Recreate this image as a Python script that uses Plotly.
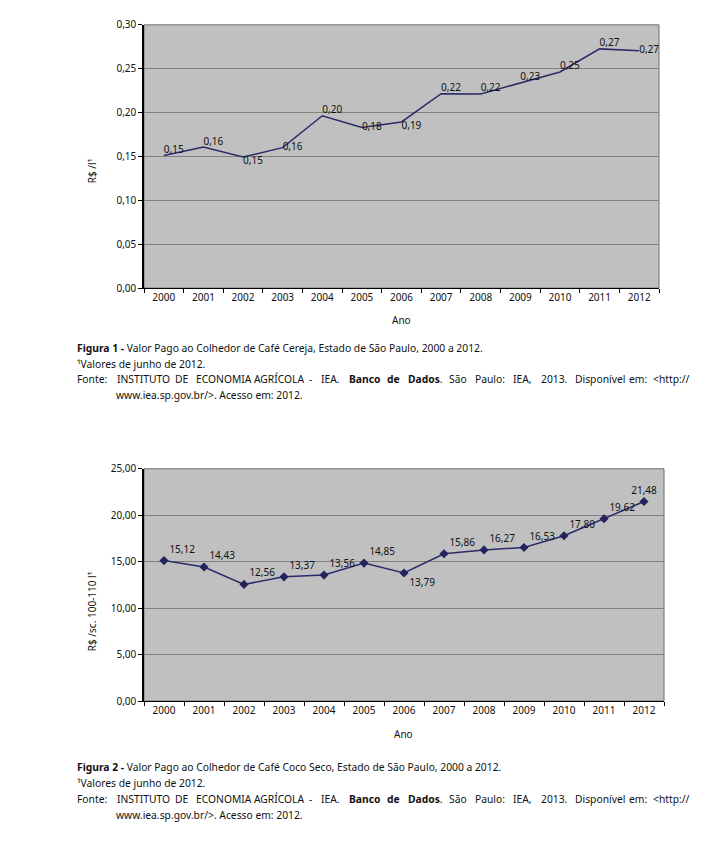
import plotly.graph_objects as go

anos = ["2000", "2001", "2002", "2003", "2004", "2005", "2006",
        "2007", "2008", "2009", "2010", "2011", "2012"]
cereja = [0.151, 0.1607, 0.1494, 0.160, 0.1964, 0.1829, 0.1893,
          0.2216, 0.2212, 0.234, 0.2463, 0.2726, 0.2704]
coco_seco = [15.12, 14.43, 12.56, 13.37, 13.56, 14.85, 13.79,
             15.86, 16.27, 16.53, 17.80, 19.62, 21.48]
ticks1 = [0.0, 0.05, 0.10, 0.15, 0.20, 0.25, 0.30]
ticks2 = [0, 5, 10, 15, 20, 25]

pos1 = ["top right", "top right", "bottom right", "middle right", "top right",
        "middle right", "bottom right", "top right", "top right", "top right",
        "top right", "top right", "middle right"]
pos2 = ["top right"] * 6 + ["bottom right"] + ["top right"] * 5 + ["top center"]

FONT = "Noto Sans"
OFF = 8                      # default page (body) margin
W, H = 725 - 2 * OFF, 858 - 2 * OFF
LINE = "#2b2b6b"
GRID = "#808080"
BG = "#c0c0c0"


def px_x(x):
    return (x - OFF) / W


def px_y(y):
    return 1 - (y - OFF) / H


fig = go.Figure()
fig.add_trace(go.Scatter(
    x=anos, y=cereja, mode="lines+text", xaxis="x", yaxis="y",
    line=dict(color=LINE, width=1.5),
    text=[f"{v:.2f}".replace(".", ",") for v in cereja],
    textposition=pos1, textfont=dict(family=FONT, size=10, color="#111"),
    cliponaxis=False, showlegend=False, hoverinfo="skip"))
fig.add_trace(go.Scatter(
    x=anos, y=coco_seco, mode="lines+markers+text", xaxis="x2", yaxis="y2",
    line=dict(color=LINE, width=1.5),
    marker=dict(symbol="diamond", size=7, color="#23235e"),
    text=[f"{v:.2f}".replace(".", ",") for v in coco_seco],
    textposition=pos2, textfont=dict(family=FONT, size=10, color="#111"),
    cliponaxis=False, showlegend=False, hoverinfo="skip"))

common_x = dict(type="category", range=[-0.5, 12.5], showgrid=False,
                showline=True, linecolor="black", linewidth=1,
                ticks="outside", ticklen=4, tickcolor="black",
                tickson="boundaries", fixedrange=True,
                tickfont=dict(family=FONT, size=10, color="#111"))
common_y = dict(showgrid=True, gridcolor=GRID, gridwidth=1,
                showline=True, linecolor="black", linewidth=1.5,
                ticks="outside", ticklen=4, tickcolor="black",
                zeroline=False, tickformat=".2f",
                tickfont=dict(family=FONT, size=10, color="#111"))

fig.update_layout(
    width=W, height=H, margin=dict(l=0, r=0, t=0, b=0),
    paper_bgcolor="white", plot_bgcolor=BG, separators=",.",
    font=dict(family=FONT, size=10, color="#111"),
    xaxis=dict(domain=[px_x(144), px_x(659)], anchor="y", **common_x),
    yaxis=dict(domain=[px_y(285), px_y(17)], anchor="x", range=[0, 0.30],
               tickvals=ticks1, **common_y),
    xaxis2=dict(domain=[px_x(144), px_x(664)], anchor="y2", **common_x),
    yaxis2=dict(domain=[px_y(705.5), px_y(469)], anchor="x2", range=[0, 25],
                tickvals=ticks2, **common_y),
)

for xr, yr in [("x domain", "y domain"), ("x2 domain", "y2 domain")]:
    fig.add_shape(type="rect", xref=xr, yref=yr, x0=0, x1=1, y0=0, y1=1,
                  line=dict(color="#6e6e6e", width=1), layer="below")

ann = []
ann.append(dict(text="Ano", x=px_x(401), y=px_y(318), xanchor="center"))
ann.append(dict(text="Ano", x=px_x(403), y=px_y(739), xanchor="center"))
ann.append(dict(text="R$ /l¹", x=px_x(92), y=px_y(166), textangle=-90,
                xanchor="center"))
ann.append(dict(text="R$ /sc. 100-110 l¹", x=px_x(92), y=px_y(615),
                textangle=-90, xanchor="center"))

CAP = 10.3
captions = [
    (346, "<b>Figura 1 -</b> Valor Pago ao Colhedor de Café Cereja, Estado de São Paulo, 2000 a 2012."),
    (773, "<b>Figura 2 -</b> Valor Pago ao Colhedor de Café Coco Seco, Estado de São Paulo, 2000 a 2012."),
]
for y, t in captions:
    ann.append(dict(text=t, x=px_x(75), y=px_y(y), xanchor="left",
                    font=dict(size=CAP)))
for base in (362, 789):
    ann.append(dict(text="¹Valores de junho de 2012.", x=px_x(75), y=px_y(base),
                    xanchor="left", font=dict(size=CAP)))

# justified "Fonte" line: word groups with their left edges
fonte_words = ["Fonte:", "INSTITUTO", "DE", "ECONOMIA", "AGRÍCOLA", "-", "IEA.",
               "<b>Banco</b>", "<b>de</b>", "<b>Dados</b>.", "São", "Paulo:", "IEA,",
               "2013.", "Disponível", "em:"]
fonte_x = [75, 115, 173, 194, 252, 307, 319, 347, 385, 406, 447, 473, 511,
           539, 573, 627]
for base in (378, 805):
    for w, xw in zip(fonte_words, fonte_x):
        ann.append(dict(text=w, x=px_x(xw), y=px_y(base), xanchor="left",
                        font=dict(size=CAP)))
    ann.append(dict(text="&lt;http://", x=px_x(692), y=px_y(base),
                    xanchor="right", font=dict(size=CAP)))
    ann.append(dict(text="www.iea.sp.gov.br/&gt;. Acesso em: 2012.", x=px_x(114),
                    y=px_y(base + 16), xanchor="left", font=dict(size=CAP)))

for a in ann:
    a.setdefault("xref", "paper")
    a.setdefault("yref", "paper")
    a.setdefault("showarrow", False)
    a.setdefault("yanchor", "middle")
    fig.add_annotation(**a)

fig.write_html("out.html")
